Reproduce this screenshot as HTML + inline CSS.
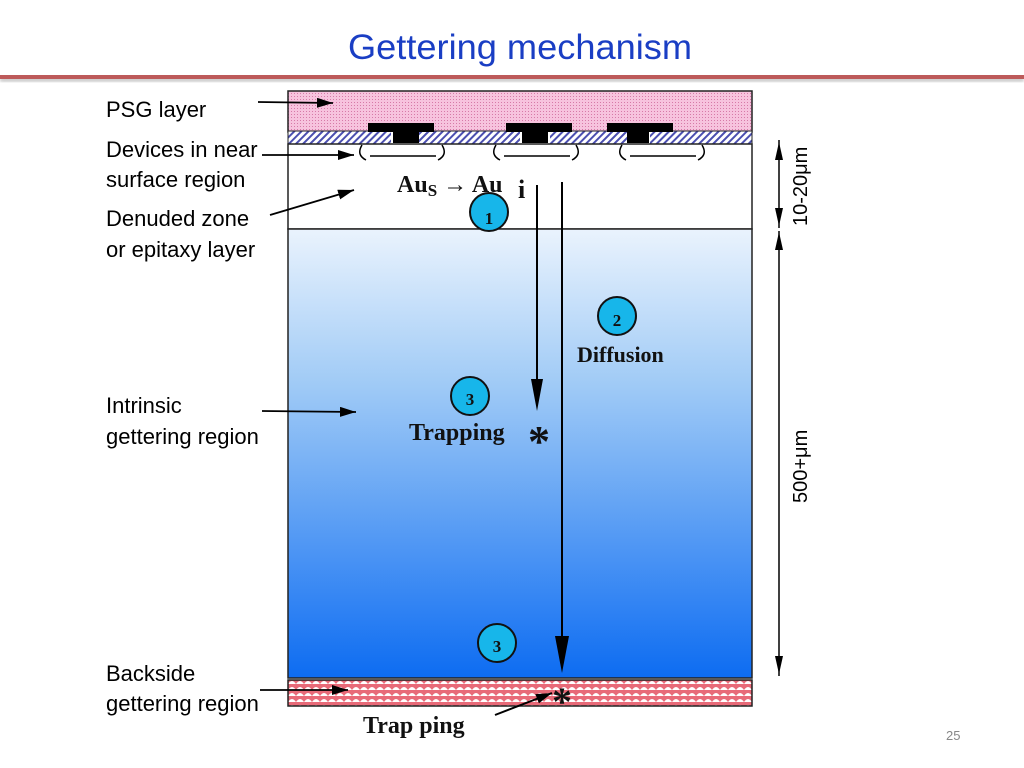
<!DOCTYPE html>
<html><head><meta charset="utf-8"><style>
body{margin:0;background:#fff;}
svg{display:block}
.lab{font-family:"Liberation Sans",sans-serif;font-size:22px;fill:#000}
.ser{font-family:"Liberation Serif",serif;font-weight:bold;fill:#111}
</style></head><body>
<svg width="1024" height="768" viewBox="0 0 1024 768" xmlns="http://www.w3.org/2000/svg">
<defs>
<pattern id="psg" width="3" height="3" patternUnits="userSpaceOnUse"><rect width="3" height="3" fill="#f7c3de"/><rect width="1" height="1" fill="#d77aa8"/></pattern>
<pattern id="hat" width="5" height="5" patternUnits="userSpaceOnUse" patternTransform="rotate(45)"><rect width="5" height="5" fill="#fff"/><rect width="2" height="5" fill="#4b4fb0"/></pattern>
<pattern id="bs" width="8" height="6" patternUnits="userSpaceOnUse"><rect width="8" height="6" fill="#e86a78"/><path d="M0,6 Q4,0 8,6Z" fill="#fff"/></pattern>
<linearGradient id="g" x1="0" y1="0" x2="0" y2="1"><stop offset="0" stop-color="#eaf3fd"/><stop offset="0.35" stop-color="#9fcaf6"/><stop offset="1" stop-color="#0d6cf2"/></linearGradient>
<marker id="ahb" markerWidth="16" markerHeight="10" refX="16" refY="5" orient="auto" markerUnits="userSpaceOnUse"><path d="M0,0L16,5L0,10Z" fill="#000"/></marker>
<filter id="sh"><feGaussianBlur stdDeviation="1.5"/></filter>
</defs>
<text x="520" y="59" text-anchor="middle" font-family="Liberation Sans,sans-serif" font-size="35" fill="#1a3ec4" textLength="344" lengthAdjust="spacingAndGlyphs">Gettering mechanism</text>
<rect x="0" y="77" width="1024" height="5" fill="#999" opacity="0.5" filter="url(#sh)"/>
<rect x="0" y="75" width="1024" height="4" fill="#bd5a5a"/>

<rect x="288" y="91" width="464" height="41" fill="url(#psg)" stroke="#222" stroke-width="1.5"/>
<rect x="288" y="131" width="464" height="13" fill="url(#hat)" stroke="#222" stroke-width="1"/>
<rect x="391" y="131" width="28" height="13" fill="#fff"/>
<rect x="520" y="131" width="30" height="13" fill="#fff"/>
<rect x="627" y="131" width="23" height="13" fill="#fff"/>
<rect x="368" y="123" width="66" height="9" fill="#000"/>
<rect x="393" y="131" width="26" height="12" fill="#000"/>
<rect x="506" y="123" width="66" height="9" fill="#000"/>
<rect x="522" y="131" width="26" height="12" fill="#000"/>
<rect x="607" y="123" width="66" height="9" fill="#000"/>
<rect x="627" y="131" width="22" height="12" fill="#000"/>
<rect x="288" y="144" width="464" height="85" fill="#fff" stroke="#222" stroke-width="1.5"/>
<g fill="none" stroke="#000" stroke-width="1.5">
<path d="M362,145 q-6,10 4,15 M442,145 q6,10 -4,15 M370,156 l66,0"/>
<path d="M496,145 q-6,10 4,15 M576,145 q6,10 -4,15 M504,156 l66,0"/>
<path d="M622,145 q-6,10 4,15 M702,145 q6,10 -4,15 M630,156 l66,0"/>
</g>
<rect x="288" y="229" width="464" height="449" fill="url(#g)" stroke="#222" stroke-width="1.5"/>
<rect x="288" y="680" width="464" height="26" fill="url(#bs)" stroke="#222" stroke-width="1.5"/>

<line x1="537" y1="185" x2="537" y2="385" stroke="#000" stroke-width="2"/>
<path d="M531,379 L543,379 L537,411Z" fill="#000"/>
<line x1="562" y1="182" x2="562" y2="640" stroke="#000" stroke-width="2"/>
<path d="M555,636 L569,636 L562,673Z" fill="#000"/>

<g stroke="#111" stroke-width="2" fill="#17b6ea">
<circle cx="489" cy="212" r="19"/><circle cx="617" cy="316" r="19"/><circle cx="470" cy="396" r="19"/><circle cx="497" cy="643" r="19"/>
</g>
<g class="ser" font-size="17" text-anchor="middle">
<text x="489" y="224">1</text><text x="617" y="326">2</text><text x="470" y="405">3</text><text x="497" y="652">3</text>
</g>
<text x="397" y="192" class="ser" font-size="24">Au<tspan font-size="17" dy="4">S</tspan><tspan dy="-4"> → Au</tspan></text>
<text x="518" y="198" class="ser" font-size="26">i</text>
<text x="577" y="362" class="ser" font-size="22">Diffusion</text>
<text x="409" y="440" class="ser" font-size="24">Trapping</text>
<text x="528" y="456" class="ser" font-size="44">*</text>
<text x="552" y="715" class="ser" font-size="40">*</text>
<text x="363" y="733" class="ser" font-size="24">Trap ping</text>
<line x1="495" y1="715" x2="552" y2="693" stroke="#000" stroke-width="2" marker-end="url(#ahb)"/>

<text x="106" y="117" class="lab">PSG layer</text>
<text x="106" y="157" class="lab">Devices in near</text>
<text x="106" y="187" class="lab">surface region</text>
<text x="106" y="226" class="lab">Denuded zone</text>
<text x="106" y="257" class="lab">or epitaxy layer</text>
<text x="106" y="413" class="lab">Intrinsic</text>
<text x="106" y="444" class="lab">gettering region</text>
<text x="106" y="681" class="lab">Backside</text>
<text x="106" y="711" class="lab">gettering region</text>
<g stroke="#000" stroke-width="1.8">
<line x1="258" y1="102" x2="333" y2="103" marker-end="url(#ahb)"/>
<line x1="262" y1="155" x2="354" y2="155" marker-end="url(#ahb)"/>
<line x1="270" y1="215" x2="354" y2="190" marker-end="url(#ahb)"/>
<line x1="262" y1="411" x2="356" y2="412" marker-end="url(#ahb)"/>
<line x1="260" y1="690" x2="348" y2="690" marker-end="url(#ahb)"/>
</g>

<g stroke="#000" stroke-width="1.5">
<line x1="779" y1="140" x2="779" y2="228"/>
<line x1="779" y1="231" x2="779" y2="676"/>
</g>
<g fill="#000">
<path d="M779,142 l-4,18 l8,0Z"/><path d="M779,226 l-4,-18 l8,0Z"/>
<path d="M779,232 l-4,18 l8,0Z"/><path d="M779,674 l-4,-18 l8,0Z"/>
</g>
<text transform="translate(807,226) rotate(-90)" font-family="Liberation Sans,sans-serif" font-size="20">10-20μm</text>
<text transform="translate(807,503) rotate(-90)" font-family="Liberation Sans,sans-serif" font-size="20">500+μm</text>
<text x="946" y="740" font-family="Liberation Sans,sans-serif" font-size="13" fill="#888">25</text>
</svg>
</body></html>
